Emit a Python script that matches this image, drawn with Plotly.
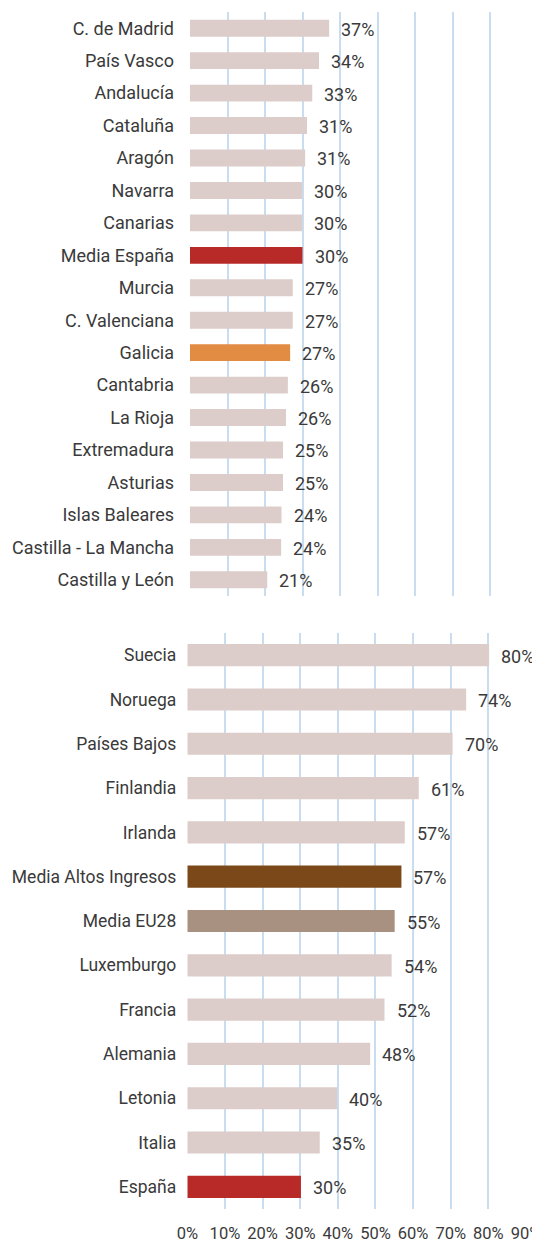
import plotly.graph_objects as go

# ---- data: top panel (Spanish regions) ----
regions = ["C. de Madrid", "País Vasco", "Andalucía", "Cataluña", "Aragón", "Navarra",
           "Canarias", "Media España", "Murcia", "C. Valenciana", "Galicia", "Cantabria",
           "La Rioja", "Extremadura", "Asturias", "Islas Baleares", "Castilla - La Mancha",
           "Castilla y León"]
region_values = [37.1, 34.4, 32.6, 31.2, 30.7, 29.9, 29.9, 30.0, 27.4, 27.4, 26.7, 26.1,
                 25.6, 24.8, 24.8, 24.4, 24.3, 20.6]
region_labels = ["37%", "34%", "33%", "31%", "31%", "30%", "30%", "30%", "27%", "27%",
                 "27%", "26%", "26%", "25%", "25%", "24%", "24%", "21%"]

# ---- data: bottom panel (countries) ----
countries = ["Suecia", "Noruega", "Países Bajos", "Finlandia", "Irlanda",
             "Media Altos Ingresos", "Media EU28", "Luxemburgo", "Francia", "Alemania",
             "Letonia", "Italia", "España"]
country_values = [80.2, 74.1, 70.5, 61.5, 57.8, 56.9, 55.1, 54.3, 52.4, 48.6, 39.8, 35.2, 30.2]
country_labels = ["80%", "74%", "70%", "61%", "57%", "57%", "55%", "54%", "52%", "48%",
                  "40%", "35%", "30%"]

x_ticks = [0, 10, 20, 30, 40, 50, 60, 70, 80, 90]
x_tick_labels = ["0%", "10%", "20%", "30%", "40%", "50%", "60%", "70%", "80%", "90%"]

# ---- styles ----
BASE = "#ddcdca"
HIGHLIGHT = {
    "Media España": "#b82a27",
    "España": "#b82a27",
    "Galicia": "#e28b43",
    "Media Altos Ingresos": "#7a4819",
    "Media EU28": "#a89180",
}
TEXT = "#3a3a3a"
GRID = "#c9ddf1"
FONT = "Roboto"

W, H = 540, 1244
OFF = 8  # page body margin offset compensation

fig = go.Figure()

fig.add_trace(go.Bar(
    x=region_values, y=regions, orientation="h",
    marker=dict(color=[HIGHLIGHT.get(r, BASE) for r in regions], line=dict(width=0)),
    width=0.52, xaxis="x", yaxis="y", hoverinfo="skip", showlegend=False,
))
fig.add_trace(go.Bar(
    x=country_values, y=countries, orientation="h",
    marker=dict(color=[HIGHLIGHT.get(c, BASE) for c in countries], line=dict(width=0)),
    width=0.5, xaxis="x2", yaxis="y2", hoverinfo="skip", showlegend=False,
))

annotations = []
for v, cat, lab in zip(region_values, regions, region_labels):
    annotations.append(dict(x=v, y=cat, xref="x", yref="y", text=lab, showarrow=False,
                            xanchor="left", yanchor="middle", xshift=10, yshift=-1,
                            font=dict(family=FONT, size=18, color=TEXT)))
for v, cat, lab in zip(country_values, countries, country_labels):
    annotations.append(dict(x=v, y=cat, xref="x2", yref="y2", text=lab, showarrow=False,
                            xanchor="left", yanchor="middle", xshift=10, yshift=-1,
                            font=dict(family=FONT, size=18, color=TEXT)))


def ydom(top_px, bot_px):
    return [1 - (bot_px - OFF) / H, 1 - (top_px - OFF) / H]


def xdom(l_px, r_px):
    return [(l_px - OFF) / W, (r_px - OFF) / W]


fig.update_layout(
    width=W, height=H,
    margin=dict(l=0, r=0, t=0, b=0, autoexpand=False),
    paper_bgcolor="white", plot_bgcolor="white",
    font=dict(family=FONT, size=18, color=TEXT),
    bargap=0.5,
    annotations=annotations,
    xaxis=dict(domain=xdom(190, 527.5), range=[0, 90], tickvals=x_ticks,
               showticklabels=False, showgrid=True, gridcolor=GRID, gridwidth=1.5,
               zeroline=False, showline=False, anchor="y", automargin=False),
    yaxis=dict(domain=ydom(12, 596), categoryorder="array", categoryarray=regions,
               autorange="reversed", showgrid=False, zeroline=False, showline=False,
               ticks="", ticklabelstandoff=15, anchor="x", automargin=False,
               tickfont=dict(family=FONT, size=18, color=TEXT)),
    xaxis2=dict(domain=xdom(187.3, 526), range=[0, 90], tickvals=x_ticks,
                ticktext=x_tick_labels, showticklabels=True,
                tickfont=dict(family=FONT, size=16.5, color=TEXT),
                showgrid=True, gridcolor=GRID, gridwidth=1.5, ticks="",
                ticklabelstandoff=12, automargin=False,
                zeroline=False, showline=False, anchor="y2"),
    yaxis2=dict(domain=ydom(633, 1209), categoryorder="array", categoryarray=countries,
                autorange="reversed", showgrid=False, zeroline=False, showline=False,
                ticks="", ticklabelstandoff=10, anchor="x2", automargin=False,
                tickfont=dict(family=FONT, size=17.5, color=TEXT)),
)

fig.write_html("out.html")
